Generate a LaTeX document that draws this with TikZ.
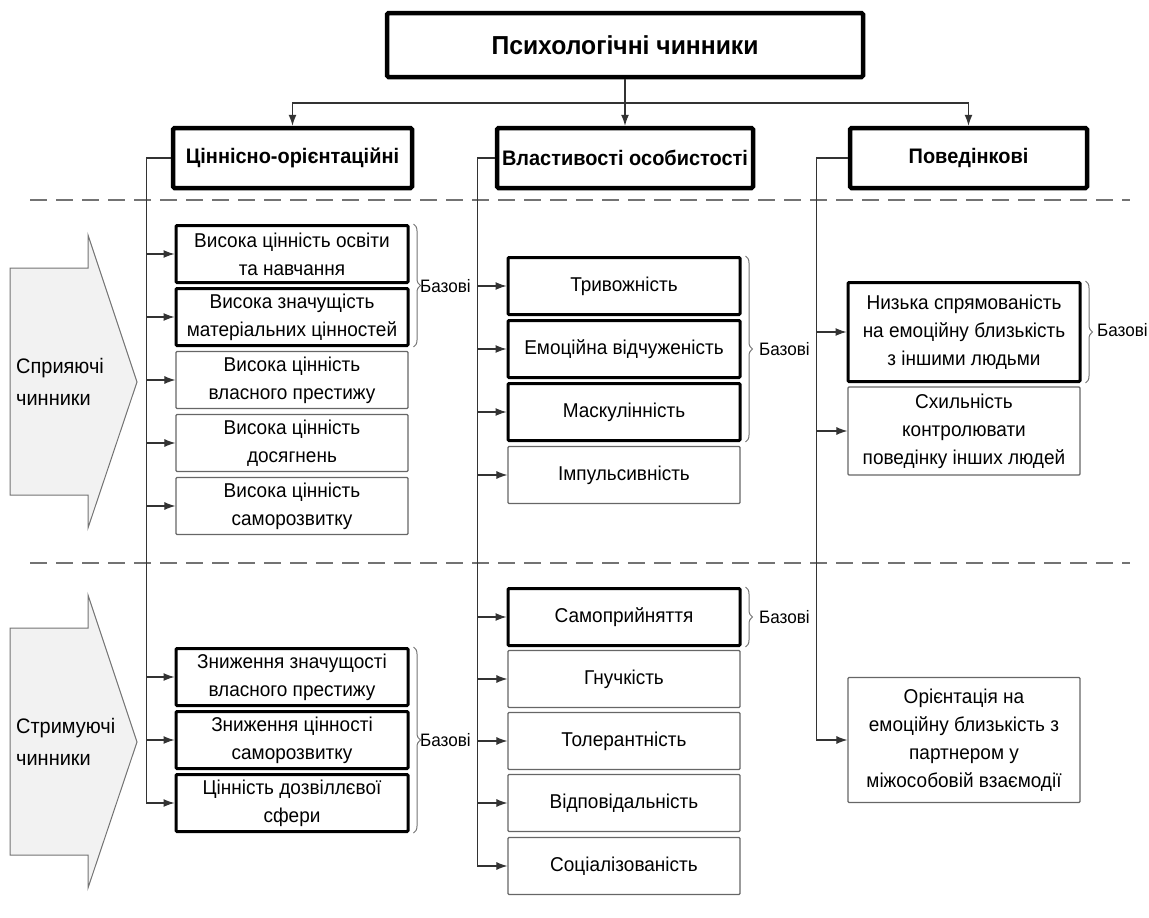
\documentclass[tikz,border=0pt]{standalone}
\usepackage{fontspec}
\setmainfont{Liberation Sans}[FakeStretch=0.95]
\usetikzlibrary{arrows.meta}
\usetikzlibrary{decorations.pathreplacing}

\begin{document}
\begin{tikzpicture}[x=1pt,y=-1pt,
    topbox/.style={draw,line width=4.5pt,rounded corners=1.5pt,minimum width=476pt,minimum height=64pt,font=\fontsize{26}{30}\selectfont\bfseries},
    headbox/.style={draw,line width=4.5pt,rounded corners=1.5pt,minimum height=60pt,inner xsep=2pt,font=\fontsize{21}{25}\selectfont\bfseries},
    basebox/.style={draw,line width=3pt,rounded corners=1pt,minimum width=232pt,minimum height=57pt,align=center,inner sep=0pt,font=\fontsize{20}{28}\selectfont},
    plainbox/.style={basebox,draw=black!60,line width=1.2pt},
    link/.style={draw=black!80,line width=1.1pt,-{Latex[length=11pt,width=8pt]}},
    brc/.style={draw=black!55,line width=1pt,decorate,decoration={brace,amplitude=7pt}},
    bl/.style={font=\fontsize{18}{22}\selectfont,anchor=west,inner sep=0pt},
    sep/.style={draw=black!55,line width=1.3pt,dash pattern=on 17pt off 9pt},
    side/.style={draw=black!55,fill=black!5,line width=1pt}]
    \useasboundingbox (0,0) rectangle (1149,918);

    % top level
    \node[topbox] (title) at (625,45) {Психологічні чинники};
    \node[headbox,minimum width=239pt] (hdA) at (292.5,158) {Ціннісно-орієнтаційні};
    \node[headbox,minimum width=256pt] (hdB) at (625,158) {Властивості особистості};
    \node[headbox,minimum width=237pt] (hdC) at (968.5,158) {Поведінкові};
    \coordinate (fork) at (625,103);
    \draw[link] (title) -- (hdB);
    \draw[link] (fork) -| (hdA.north);
    \draw[link] (fork) -| (hdC.north);

    % separators
    \draw[sep] (30,200) -- (1130,200);
    \draw[sep] (30,563) -- (1130,563);

    % side arrows
    \draw[side] (10,268) -- (88,268) -- (88,235) -- (137,382) -- (88,528) -- (88,495) -- (10,495) -- cycle;
    \node[bl,align=left,font=\fontsize{21}{32}\selectfont] (spr) at (16,382) {Сприяючі\\чинники};
    \draw[side] (10,628) -- (88,628) -- (88,595) -- (137,742) -- (88,888) -- (88,855) -- (10,855) -- cycle;
    \node[bl,align=left,font=\fontsize{21}{32}\selectfont] (str) at (16,742) {Стримуючі\\чинники};

    % column A
    \node[basebox] (a1) at (292,254) {Висока цінність освіти\\та навчання};
    \node[basebox] (a2) at (292,317) {Висока значущість\\матеріальних цінностей};
    \node[plainbox] (a3) at (292,380) {Висока цінність\\власного престижу};
    \node[plainbox] (a4) at (292,443) {Висока цінність\\досягнень};
    \node[plainbox] (a5) at (292,506) {Висока цінність\\саморозвитку};
    \node[basebox] (a6) at (292,677) {Зниження значущості\\власного престижу};
    \node[basebox] (a7) at (292,740) {Зниження цінності\\саморозвитку};
    \node[basebox] (a8) at (292,803) {Цінність дозвіллєвої\\сфери};
    \foreach \n in {1,...,8}
      \draw[link] (hdA.west) -- ++(-24,0) |- (a\n.west);
    \draw[brc] ([xshift=4pt]a1.north east) -- ([xshift=4pt]a2.south east);
    \node[bl] (baA) at (420,286) {Базові};
    \draw[brc] ([xshift=4pt]a6.north east) -- ([xshift=4pt]a8.south east);
    \node[bl] (baB) at (420,740) {Базові};

    % column B
    \node[basebox] (b1) at (624,286) {Тривожність};
    \node[basebox] (b2) at (624,349) {Емоційна відчуженість};
    \node[basebox] (b3) at (624,412) {Маскулінність};
    \node[plainbox] (b4) at (624,475) {Імпульсивність};
    \node[basebox] (b5) at (624,617) {Самоприйняття};
    \node[plainbox] (b6) at (624,679) {Гнучкість};
    \node[plainbox] (b7) at (624,741) {Толерантність};
    \node[plainbox] (b8) at (624,803) {Відповідальність};
    \node[plainbox] (b9) at (624,866) {Соціалізованість};
    \foreach \n in {1,...,9}
      \draw[link] (hdB.west) -- ++(-17,0) |- (b\n.west);
    \draw[brc] ([xshift=4pt]b1.north east) -- ([xshift=4pt]b3.south east);
    \node[bl] (baC) at (759,349) {Базові};
    \draw[brc] ([xshift=4pt]b5.north east) -- ([xshift=4pt]b5.south east);
    \node[bl] (baD) at (759,617) {Базові};

    % column C
    \node[basebox,minimum height=99pt] (c1) at (964,332) {Низька спрямованість\\на емоційну близькість\\з іншими людьми};
    \node[plainbox,minimum height=88pt] (c2) at (964,431) {Схильність\\контролювати\\поведінку інших людей};
    \node[plainbox,minimum height=125pt] (c3) at (964,740) {Орієнтація на\\емоційну близькість з\\партнером у\\міжособовій взаємодії};
    \foreach \n in {1,2,3}
      \draw[link] (hdC.west) -- ++(-31,0) |- (c\n.west);
    \draw[brc] ([xshift=4pt]c1.north east) -- ([xshift=4pt]c1.south east);
    \node[bl] (baE) at (1097,330) {Базові};
\end{tikzpicture}
\end{document}
